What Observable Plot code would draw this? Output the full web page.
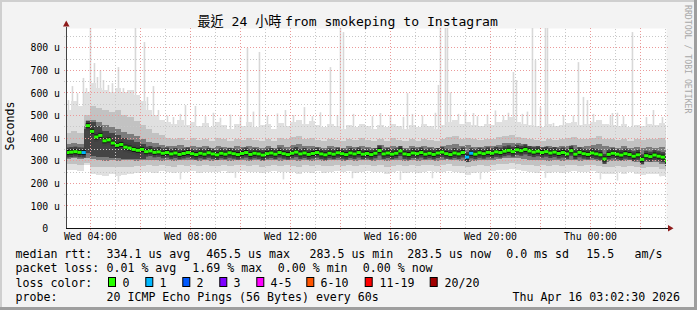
<!DOCTYPE html>
<html><head><meta charset="utf-8">
<script src="https://cdn.jsdelivr.net/npm/d3@7"></script>
<script src="https://cdn.jsdelivr.net/npm/@observablehq/plot@0.6"></script>
<style>
html,body{margin:0;padding:0;background:#f3f3f3;}
#chart svg{display:block;}
</style></head><body><div id="chart"></div>
<script>
// ---------- DATA ----------
const titleCJK = "最近 24 小時 ";
const titleLatin = "from smokeping to Instagram";
const yLabel = "Seconds";
const sideLabel = "RRDTOOL / TOBI OETIKER";
const yMajor = [100, 200, 300, 400, 500, 600, 700, 800];
const yMajorLabels = ["100 u", "200 u", "300 u", "400 u", "500 u", "600 u", "700 u", "800 u"];
const yMinor = [50, 150, 250, 350, 450, 550, 650, 750, 850];
const xMajorHours = [4, 6, 8, 10, 12, 14, 16, 18, 20, 22, 24, 26];
const xMinorHours = [5, 7, 9, 11, 13, 15, 17, 19, 21, 23, 25, 27];
const xLabelHours = [4, 8, 12, 16, 20, 24];
const xLabels = ["Wed 04:00", "Wed 08:00", "Wed 12:00", "Wed 16:00", "Wed 20:00", "Thu 00:00"];

// smoke bands, 15-minute bins from Wed 03:00 (hours since Wed 00:00)
const hiBand = [
 520,560,540,600, 640,620,610,600, 620,600,610,590, 560,520,500,480,
 470,460,480,455, 470,450,465,445, 470,455,440,460, 450,470,445,455,
 460,440,465,450, 470,480,460,475, 455,445,460,450, 440,455,445,460,
 450,440,455,445, 460,450,440,455, 445,460,450,440, 455,470,480,460,
 470,455,450,460, 455,470,480,490, 470,460,455,450, 445,460,450,455,
 465,470,455,460, 470,480,460,455, 450,460,445,455, 450,460,455,465, 450];
const midHiBand = [
 420,430,420,500, 540,530,520,515, 520,500,490,475, 455,440,420,410,
 400,395,400,390, 398,388,395,385, 400,392,386,395, 388,398,390,384,
 394,386,400,392, 402,408,395,400, 390,386,396,388, 384,394,388,398,
 390,384,396,386, 398,390,385,394, 386,396,390,384, 394,402,408,396,
 400,392,388,396, 392,402,408,412, 404,398,392,388, 386,396,390,394,
 398,402,392,396, 400,406,396,392, 388,396,386,392, 388,396,392,400, 390];
const innerHiBand = [
 372,375,372,450, 480,470,455,445, 440,425,415,405, 392,382,375,368,
 365,362,366,360, 364,358,362,356, 365,360,356,362, 358,364,360,355,
 362,356,366,360, 366,370,362,365, 360,356,364,358, 355,362,358,365,
 360,355,366,357, 364,360,356,362, 357,364,360,355, 362,367,370,364,
 366,360,357,363, 362,368,374,378, 376,370,365,362, 358,364,360,362,
 365,368,360,363, 366,370,362,358, 356,362,355,360, 352,358,356,360, 350];
const innerLoBand = [
 306,308,305,310, 305,300,298,300, 298,300,302,298, 300,302,300,298,
 300,297,302,299, 301,296,303,298, 299,303,297,301, 302,298,300,296,
 299,303,298,301, 300,298,302,297, 301,296,300,303, 298,302,297,300,
 303,298,301,296, 300,302,298,301, 297,300,303,298, 301,304,300,297,
 292,298,301,299, 302,306,308,310, 308,304,301,299, 302,298,301,297,
 300,303,298,301, 302,298,294,296, 298,295,299,294, 290,294,292,285, 275];
const midLoBand = [
 282,284,280,288, 272,270,268,270, 268,272,270,274, 276,278,275,278,
 276,272,278,275, 278,273,279,275, 276,280,274,278, 279,275,277,272,
 276,280,275,278, 275,272,278,274, 278,273,276,280, 275,279,273,277,
 280,275,278,272, 276,279,274,278, 273,277,280,275, 278,281,276,273,
 268,274,278,276, 279,282,284,286, 284,280,277,275, 279,274,277,273,
 277,280,275,278, 279,274,270,272, 275,271,276,270, 266,270,268,262, 255];
const loBand = [
 255,258,252,280, 240,236,232,238, 228,234,238,242, 246,250,245,252,
 248,242,250,246, 252,244,250,247, 249,254,245,250, 252,246,249,242,
 248,253,246,250, 246,241,250,244, 251,243,248,253, 246,251,243,249,
 253,246,250,241, 248,252,244,250, 243,249,253,246, 250,254,247,242,
 236,244,250,247, 252,255,258,260, 257,252,248,245, 251,244,249,242,
 248,252,246,250, 251,244,238,241, 246,240,247,239, 236,241,238,232, 228];
// darkest smoke during the 04:00 disturbance: [15-min bin index, low, high]
const burstCore = [[3,330,440],[4,320,470],[5,315,450],[6,315,430],[7,310,420],
 [8,310,410],[9,305,400],[10,305,390],[11,305,380],[12,305,370]];

// median rtt (microseconds), 10-minute bins from Wed 03:00
const medianRtt = [
 336,338,340,337,336,455, 430,405,412,388,392,378, 368,372,360,356,350,346,
 350,340,343,337,339,333, 336,330,334,328,332,336, 331,327,333,329,335,330,
 326,333,329,335,331,327, 332,336,328,333,330,325, 331,334,329,336,331,327,
 333,338,330,334,328,332, 336,330,326,333,329,335, 331,327,334,330,336,329,
 332,327,333,345,330,334, 329,333,343,330,327,334, 331,336,329,333,328,334,
 338,331,327,334,330,336, 316,333,329,335,331,337, 333,339,336,342,346,340,
 348,344,350,343,338,342, 336,340,334,338,332,336, 330,344,329,337,331,328,
 334,330,326,308,328,333, 329,325,331,327,320,326, 306,322,318,325,320,316, 300];
// [median bin index, lost pings]
const lossSteps = [[4, 1], [96, 1], [97, 1]];

// thin spikes of single ping rtt: [hour, top value]
const spikes = [
 [3.12,566],[3.28,628],[3.48,597],[3.72,664],[3.84,619],[4.00,885],[4.16,730],[4.28,668],
 [4.40,699],[4.52,655],[4.72,633],[4.88,641],[5.12,712],[5.32,619],[5.52,610],[5.80,885],
 [6.16,823],[6.28,580],[6.52,628],[6.72,522],[7.08,498],[7.32,491],[7.60,505],[7.80,544],
 [8.20,540],[8.60,495],[8.92,510],[9.20,488],[9.60,502],[10.00,494],[10.28,797],[10.52,515],
 [10.76,779],[11.08,498],[11.48,507],[11.80,522],[12.12,500],[12.56,535],[12.88,495],[13.20,512],
 [13.60,712],[13.88,500],[14.00,885],[14.12,867],[14.52,505],[15.28,495],[15.60,509],[16.00,500],
 [16.52,492],[16.68,597],[16.88,505],[17.28,498],[17.80,510],[17.92,633],[18.00,885],[18.20,885],
 [18.28,885],[18.40,600],[18.72,505],[19.00,515],[19.32,509],[19.48,495],[19.88,502],[20.20,520],
 [20.52,498],[20.72,510],[20.92,690],[21.04,655],[21.28,505],[21.48,515],[21.68,885],[21.80,743],
 [22.00,535],[22.20,885],[22.28,885],[22.52,465],[22.92,500],[23.32,498],[23.52,734],[23.72,580],
 [23.88,566],[24.12,505],[24.80,498],[24.88,509],[25.08,510],[25.32,495],[25.68,867],[26.24,491],
 [26.52,522],[26.88,491]];
// thin downward streaks: [hour, bottom value]
const dips = [[5.12,205],[7.60,215],[9.80,222],[11.72,215],[14.48,220],[16.40,212],
 [17.68,220],[19.60,215],[22.20,222],[24.40,215],[25.08,210],[26.80,228]];

// legend
const rttLabel = "median rtt:";
const rttStats = ["334.1 us avg", "465.5 us max", "283.5 us min", "283.5 us now", "0.0 ms sd", "15.5", "am/s"];
const lossLabel = "packet loss:";
const lossStats = ["0.01 % avg", "1.69 % max", "0.00 % min", "0.00 % now"];
const colorLabel = "loss color:";
const lossNames = ["0", "1", "2", "3", "4-5", "6-10", "11-19", "20/20"];
const lossColors = ["#26ff00", "#00b8ff", "#0059ff", "#7e00ff", "#ff00ff", "#ff5500", "#ff0000", "#a10000"];
const probeLabel = "probe:";
const probeText = "20 ICMP Echo Pings (56 Bytes) every 60s";
const stamp = "Thu Apr 16 03:02:30 2026";

// ---------- RENDER ----------
const W = 697, H = 310;
const X0 = 3 + 2.5 / 60, X1 = 27 + 2.5 / 60, YMAX = 885;
const PXH = 25; // px per hour
const PXU = 200 / YMAX;
const bins = hiBand.map((h, i) => ({t: 3 + i * 0.25, t2: 3 + (i + 1) * 0.25,
  lo: loBand[i], mlo: midLoBand[i], ilo: innerLoBand[i], ihi: innerHiBand[i], mhi: midHiBand[i], hi: h}));
const burst = burstCore.map(([i, lo, hi]) => ({t: 3 + i * 0.25, t2: 3 + (i + 1) * 0.25, lo, hi}));
const lossMap = new Map(lossSteps);
const med = medianRtt.map((v, i) => ({t0: 3 + i / 6, t1: 3 + (i + 1) / 6, v,
  c: lossColors[lossMap.get(i) || 0]}));
const ext = 2 / PXH, extU = 2 / PXU;
const mono = "'DejaVu Sans Mono', monospace";

const chart = Plot.plot({
  width: W, height: H,
  marginLeft: 66, marginRight: 31, marginTop: 28, marginBottom: 82,
  x: {domain: [X0, X1], axis: null},
  y: {domain: [0, YMAX], axis: null},
  style: {background: "#f3f3f3", fontFamily: mono, overflow: "visible"},
  marks: [
    Plot.frame({fill: "#ffffff", stroke: null}),
    Plot.ruleX(spikes, {x: d => d[0], y1: 330, y2: d => d[1], stroke: "#d8d8d8", strokeWidth: 1.6, clip: true}),
    Plot.ruleX(dips, {x: d => d[0], y1: 300, y2: d => d[1], stroke: "#dcdcdc", strokeWidth: 1.6, clip: true}),
    Plot.rect(bins, {x1: "t", x2: "t2", y1: "lo", y2: "hi", fill: "#e0e0e0", clip: true, shapeRendering: "crispEdges"}),
    Plot.rect(bins, {x1: "t", x2: "t2", y1: "mlo", y2: "mhi", fill: "#c2c2c2", clip: true, shapeRendering: "crispEdges"}),
    Plot.rect(bins, {x1: "t", x2: "t2", y1: "ilo", y2: "ihi", fill: "#7c7c7c", clip: true, shapeRendering: "crispEdges"}),
    Plot.rect(burst, {x1: "t", x2: "t2", y1: "lo", y2: "hi", fill: "#454545", clip: true, shapeRendering: "crispEdges"}),
    Plot.ruleY(med, {x1: "t0", x2: "t1", y: "v", stroke: "#404040", strokeWidth: 10, clip: true}),
    Plot.ruleY(med, {x1: "t0", x2: "t1", y: "v", stroke: "#111111", strokeWidth: 5, clip: true}),
    // grid
    Plot.ruleY(yMinor, {y: d => d, x1: X0 - ext, x2: X1 + ext, stroke: "#c8c8c8", strokeDasharray: "1,2", shapeRendering: "crispEdges"}),
    Plot.ruleX(xMinorHours, {x: d => d, y1: 0, y2: YMAX, stroke: "#c8c8c8", strokeDasharray: "1,2", shapeRendering: "crispEdges"}),
    Plot.ruleY(yMajor, {y: d => d, x1: X0 - ext, x2: X1 + ext, stroke: "#eb9a9a", strokeDasharray: "1,2", shapeRendering: "crispEdges"}),
    Plot.ruleX(xMajorHours, {x: d => d, y1: -extU, y2: YMAX, stroke: "#eb9a9a", strokeDasharray: "1,2", shapeRendering: "crispEdges"}),
    // median coloured by loss
    Plot.ruleY(med, {x1: "t0", x2: "t1", y: "v", stroke: "c", strokeWidth: 3, clip: true}),
    // axes
    Plot.ruleX([X0], {y1: 0, y2: YMAX + 1.5 / PXU, stroke: "#444", shapeRendering: "crispEdges"}),
    Plot.ruleY([0], {x1: X0, x2: X1 + 3.5 / PXH, stroke: "#111", shapeRendering: "crispEdges"}),
    // tick labels
    Plot.text(yMajor, {x: X0, y: d => d, text: (d, i) => yMajorLabels[i], textAnchor: "end", dx: -6.5, dy: 0.5, fontSize: 9.8, fill: "#000"}),
    Plot.text([0], {x: X0, y: 0, text: d => "0", textAnchor: "end", dx: -18.3, dy: 0.5, fontSize: 9.8, fill: "#000"}),
    Plot.text(xLabelHours, {x: d => d, y: 0, text: (d, i) => xLabels[i], dy: 8.8, fontSize: 9.8, fill: "#000"})
  ]
});
document.getElementById("chart").appendChild(chart);

const svg = d3.select(chart);
const sx = chart.scale("x"), sy = chart.scale("y");
const ax = sx.apply(X0), ay0 = sy.apply(0), axEnd = sx.apply(X1);

// arrows
svg.append("path").attr("d", `M${ax - 3},${26.5} L${ax + 3.5},${26.5} L${ax + 0.25},${20.5} Z`).attr("fill", "#8e1b1b");
svg.append("path").attr("d", `M${axEnd + 2},${ay0 - 3} L${axEnd + 2},${ay0 + 3.5} L${axEnd + 7.5},${ay0 + 0.25} Z`).attr("fill", "#8e1b1b");

// title
const tt = svg.append("text").attr("y", 25.5).attr("font-size", 13.1).attr("fill", "#000").attr("text-anchor", "start")
  .attr("font-family", "'DejaVu Sans Mono', 'Noto Sans CJK TC', monospace").attr("xml:space", "preserve");
tt.append("tspan").attr("x", 197.5).text(titleCJK);
tt.append("tspan").attr("x", 285).text(titleLatin);

// y label
svg.append("text").attr("transform", "translate(13.5,126) rotate(-90)").attr("text-anchor", "middle")
  .attr("font-size", 11.6).attr("font-family", mono).attr("fill", "#000").text(yLabel);
// side label
svg.append("text").attr("transform", "translate(685,5) rotate(90)").attr("font-size", 8.2).attr("text-anchor", "start")
  .attr("font-family", mono).attr("fill", "#a8a8a8").text(sideLabel);

// legend
const lg = svg.append("g").attr("font-size", 11.6).attr("font-family", mono).attr("fill", "#000").attr("text-anchor", "start");
const put = (s, x, y) => lg.append("text").attr("x", x).attr("y", y).attr("text-anchor", "start").text(s);
const rows = [258.3, 272.4, 286.6, 300.7];
put(rttLabel, 15.5, rows[0]);
[106.5, 206.2, 309.5, 407.2, 506.2, 586.2, 634.5].forEach((x, i) => put(rttStats[i], x, rows[0]));
put(lossLabel, 15.5, rows[1]);
[106.5, 192.3, 277.8, 362.8].forEach((x, i) => put(lossStats[i], x, rows[1]));
put(colorLabel, 15.5, rows[2]);
const boxX = [108.5, 145.8, 182.8, 219.8, 256.8, 306.8, 365.2, 430.2];
const txtX = [122.5, 159.5, 196.5, 233.5, 270.5, 320.5, 379.5, 444.5];
lossNames.forEach((n, i) => {
  lg.append("rect").attr("x", boxX[i]).attr("y", 277.5).attr("width", 7).attr("height", 9)
    .attr("fill", lossColors[i]).attr("stroke", "#000").attr("stroke-width", 1);
  put(n, txtX[i], rows[2]);
});
put(probeLabel, 15.5, rows[3]);
put(probeText, 106.5, rows[3]);
put(stamp, 512.5, rows[3]);

// 3D border
svg.append("rect").attr("x", 0).attr("y", 0).attr("width", W).attr("height", 2).attr("fill", "#cfcfcf");
svg.append("rect").attr("x", 0).attr("y", 0).attr("width", 2).attr("height", H).attr("fill", "#cfcfcf");
svg.append("rect").attr("x", 0).attr("y", H - 3).attr("width", W).attr("height", 3).attr("fill", "#9e9e9e");
svg.append("rect").attr("x", W - 3).attr("y", 0).attr("width", 3).attr("height", H).attr("fill", "#9e9e9e");
</script></body></html>
